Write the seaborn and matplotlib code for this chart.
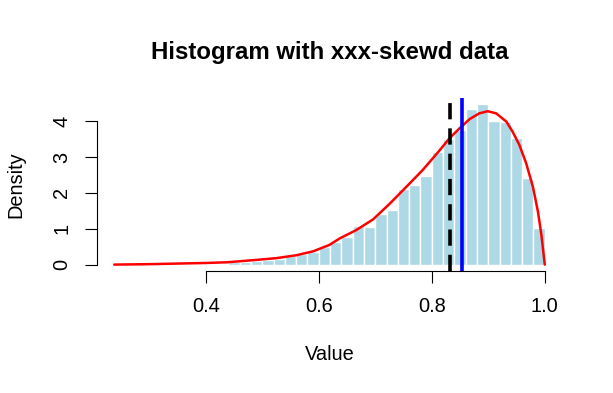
import numpy as np
import pandas as pd
import matplotlib
matplotlib.use("Agg")
import matplotlib.pyplot as plt
import seaborn as sns

# ---- data ----
bin_edges = [0.44, 0.46, 0.48, 0.50, 0.52, 0.54, 0.56, 0.58, 0.60, 0.62, 0.64,
             0.66, 0.68, 0.70, 0.72, 0.74, 0.76, 0.78, 0.80, 0.82, 0.84, 0.86,
             0.88, 0.90, 0.92, 0.94, 0.96, 0.98, 1.00]
bin_density = [0.065, 0.08, 0.09, 0.12, 0.17, 0.24, 0.30, 0.365, 0.49, 0.62,
               0.77, 1.09, 1.04, 1.40, 1.52, 2.11, 2.22, 2.47, 3.13, 3.51, 3.76,
               4.35, 4.47, 4.02, 3.99, 3.54, 2.43, 1.02]
curve_x = [0.238, 0.30, 0.354, 0.40, 0.438, 0.489, 0.525, 0.56, 0.59, 0.619,
           0.637, 0.666, 0.696, 0.725, 0.755, 0.784, 0.814, 0.831, 0.849, 0.867,
           0.884, 0.899, 0.914, 0.932, 0.943, 0.955, 0.967, 0.979, 0.988, 0.994,
           1.0]
curve_y = [0.0, 0.012, 0.03, 0.045, 0.065, 0.13, 0.18, 0.26, 0.37, 0.55,
           0.73, 0.96, 1.26, 1.69, 2.17, 2.64, 3.19, 3.52, 3.80, 4.06,
           4.22, 4.28, 4.22, 3.99, 3.71, 3.34, 2.83, 2.17, 1.47, 0.83,
           0.0]
mean_value = 0.833
median_value = 0.853
x_ticks = [0.4, 0.6, 0.8, 1.0]
x_tick_labels = ["0.4", "0.6", "0.8", "1.0"]
y_ticks = [0, 1, 2, 3, 4]
title = "Histogram with xxx-skewd data"

sns.set_style("white")
plt.rcParams['font.family'] = ['Liberation Sans', 'DejaVu Sans']
plt.rcParams['text.color'] = 'black'
plt.rcParams['axes.labelcolor'] = 'black'

W, H = 613, 393
fig = plt.figure(figsize=(W / 100, H / 100), dpi=100)
L, R, T, B = 97, 562, 98, 271
ax = fig.add_axes([L / W, 1 - B / H, (R - L) / W, (B - T) / H])

centers = [(bin_edges[i] + bin_edges[i + 1]) / 2 for i in range(len(bin_density))]
df = pd.DataFrame({"value": centers, "density": bin_density})
sns.histplot(data=df, x="value", weights="density", bins=bin_edges, stat="count",
             color="#ADD8E6", edgecolor="white", linewidth=1.0, alpha=1.0, ax=ax)

cdf = pd.DataFrame({"x": curve_x, "y": curve_y})
sns.lineplot(data=cdf, x="x", y="y", sort=False, color="red", linewidth=1.8, ax=ax)

ax.axvline(mean_value, color="black", linewidth=2.6, linestyle=(0, (4.5, 2.5)))
ax.axvline(median_value, color="blue", linewidth=2.6)

xmin, xmax = 0.238, 1.0
ymax = max(bin_density)
ax.set_xlim(xmin - 0.04 * (xmax - xmin), xmax + 0.04 * (xmax - xmin))
ax.set_ylim(-0.04 * ymax, ymax * 1.04)

for s in ["top", "right"]:
    ax.spines[s].set_visible(False)
for s in ["left", "bottom"]:
    ax.spines[s].set_visible(True)
    ax.spines[s].set_color("black")
    ax.spines[s].set_linewidth(0.8)
ax.spines["left"].set_bounds(0, 4)
ax.spines["bottom"].set_bounds(0.4, 1.0)

ax.set_xticks(x_ticks)
ax.set_xticklabels(x_tick_labels)
ax.set_yticks(y_ticks)
ax.set_yticklabels([str(v) for v in y_ticks], rotation=90, va="center")
ax.tick_params(axis="both", direction="out", length=8.6, width=0.8, color="black",
               labelsize=14.4, labelcolor="black", bottom=True, left=True)
ax.tick_params(axis="x", pad=10)
ax.tick_params(axis="y", pad=10)

ax.set_xlabel("Value", fontsize=14.4, color="black")
ax.set_ylabel("Density", fontsize=14.4, color="black")
ax.xaxis.set_label_coords(0.5, (B - 354) / (B - T))
ax.yaxis.set_label_coords((16 - L) / (R - L), 0.5)
ax.xaxis.label.set_va("center")
ax.yaxis.label.set_va("center")

ax.text(0.5, (B - 52) / (B - T), title, transform=ax.transAxes, ha="center",
        va="center", fontsize=17.3, fontweight="bold", color="black")
ax.grid(False)

fig.savefig("out.png", dpi=100, facecolor="white")
